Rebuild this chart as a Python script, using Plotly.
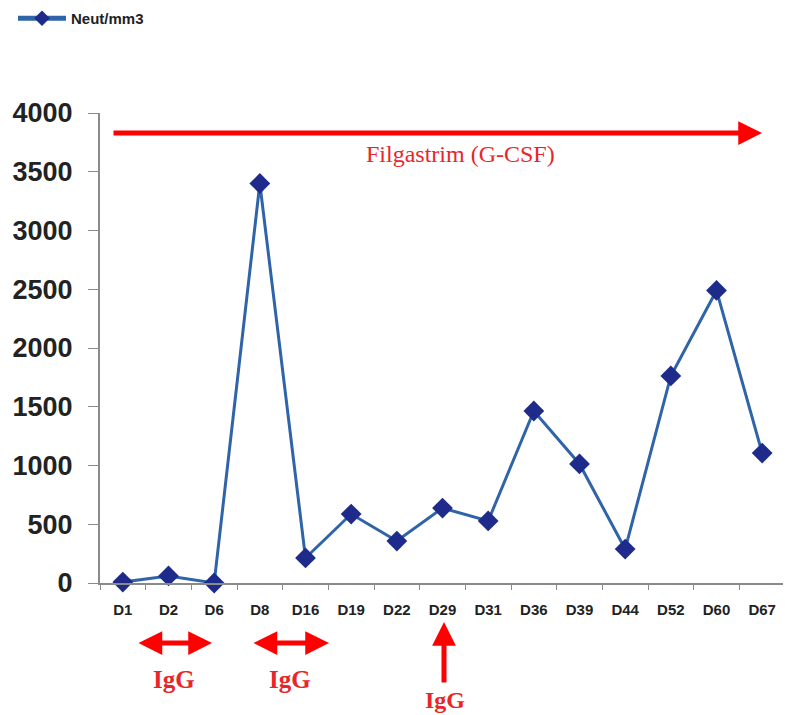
import plotly.graph_objects as go

days = ["D1", "D2", "D6", "D8", "D16", "D19", "D22", "D29", "D31", "D36", "D39", "D44", "D52", "D60", "D67"]
neut = [8, 60, 0, 3400, 213, 587, 357, 638, 528, 1464, 1013, 289, 1762, 2490, 1106]
y_ticks = [0, 500, 1000, 1500, 2000, 2500, 3000, 3500, 4000]

W, H = 791, 715
OFF = 8  # page body margin
L, R_PX, T_PX, B_PX = 100, 785, 113, 583  # plot area in screen pixels


def px(x):
    return (x - L) / (R_PX - L)


def py(y):
    return (B_PX - y) / (B_PX - T_PX)


fig = go.Figure()
fig.add_trace(go.Scatter(
    x=days, y=neut, mode="lines+markers", name="<b>Neut/mm3</b>",
    line=dict(color="#2f64a8", width=3),
    marker=dict(symbol="diamond", size=16, color="#1f2b8a"),
    cliponaxis=False,
))

red = "#ff0000"
txtred = "#e8262a"
ann = []
# Filgastrim arrow
ann.append(dict(x=px(762), y=py(133), xref="paper", yref="paper", ax=-650, ay=0,
                showarrow=True, arrowhead=2, arrowsize=0.95, arrowwidth=5, arrowcolor=red, text=""))
ann.append(dict(x=px(460), y=py(154), xref="paper", yref="paper", showarrow=False,
                xanchor="center", yanchor="middle",
                text="Filgastrim (G-CSF)", font=dict(family="Liberation Serif", size=24, color=txtred)))
# IgG double arrows
for x0, x1, lx in [(137, 212, 174), (252, 329, 290)]:
    ann.append(dict(x=px(x1), y=py(643), xref="paper", yref="paper", ax=-(x1 - x0), ay=0,
                    showarrow=True, arrowhead=2, arrowside="end+start", arrowsize=0.95, arrowwidth=5,
                    arrowcolor=red, text=""))
    ann.append(dict(x=px(lx), y=py(679), xref="paper", yref="paper", showarrow=False,
                    xanchor="center", yanchor="middle",
                    text="<b>IgG</b>", font=dict(family="Liberation Serif", size=25, color=txtred)))
# IgG up arrow
ann.append(dict(x=px(444), y=py(622), xref="paper", yref="paper", ax=0, ay=62,
                showarrow=True, arrowhead=2, arrowsize=0.95, arrowwidth=5, arrowcolor=red, text=""))
ann.append(dict(x=px(445), y=py(700), xref="paper", yref="paper", showarrow=False,
                xanchor="center", yanchor="middle",
                text="<b>IgG</b>", font=dict(family="Liberation Serif", size=24, color=txtred)))

fig.update_layout(
    width=W, height=H,
    margin=dict(l=L - OFF, r=W - (R_PX - OFF), t=T_PX - OFF, b=H - (B_PX - OFF), pad=0, autoexpand=False),
    plot_bgcolor="white", paper_bgcolor="white",
    font=dict(family="Liberation Sans, Arial", color="#222222"),
    showlegend=True,
    legend=dict(x=px(13), y=py(2), xanchor="left", yanchor="top",
                font=dict(size=15, family="Liberation Sans, Arial", color="#222222"),
                itemsizing="constant", itemwidth=48, bgcolor="rgba(0,0,0,0)"),
    annotations=ann,
    xaxis=dict(
        range=[-0.5, 14.5], showgrid=False, zeroline=False, automargin=False,
        showline=True, linecolor="#8a8a8a", linewidth=2,
        ticks="outside", tickson="boundaries", ticklen=5, tickcolor="#8a8a8a", tickwidth=1,
        ticklabelstandoff=12,
        tickfont=dict(size=15, family="Liberation Sans, Arial", color="#222222", weight="bold"),
    ),
    yaxis=dict(
        range=[0, 4000], tickvals=y_ticks, showgrid=False, zeroline=False, automargin=False,
        showline=True, linecolor="#8a8a8a", linewidth=2,
        ticks="outside", ticklen=10, tickcolor="#8a8a8a", tickwidth=1,
        ticklabelstandoff=10,
        tickfont=dict(size=27, family="Liberation Sans, Arial", color="#222222", weight="bold"),
    ),
)

fig.write_html("out.html")
